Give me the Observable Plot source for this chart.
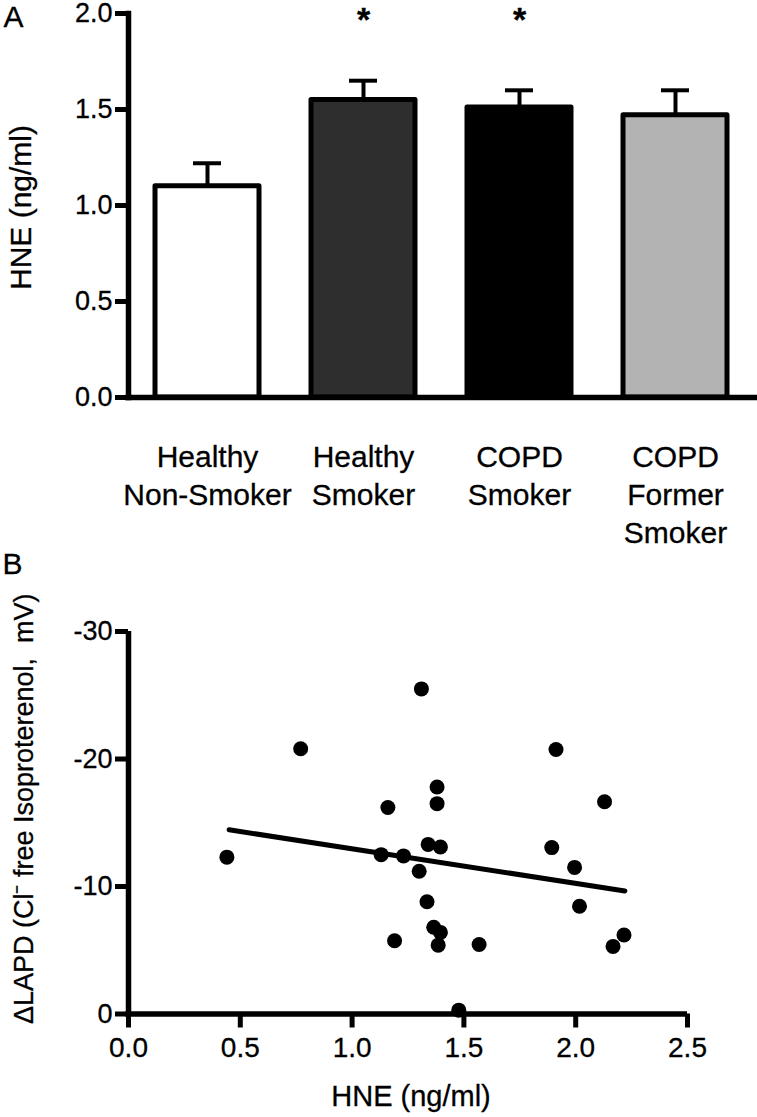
<!DOCTYPE html>
<html>
<head>
<meta charset="utf-8">
<script src="https://cdn.jsdelivr.net/npm/d3@7"></script>
<script src="https://cdn.jsdelivr.net/npm/@observablehq/plot@0.6"></script>
<style>
  html, body { margin: 0; padding: 0; background: white; overflow: hidden; }
  #wrap { position: relative; width: 757px; height: 1117px; }
  #panelA, #panelB { position: absolute; left: 0; }
  #panelA { top: 0; }
  #panelB { top: 540px; }
  svg { overflow: visible; }
  svg text { stroke: #000; stroke-width: 0.3px; paint-order: stroke; }
</style>
</head>
<body>
<div id="wrap"><div id="panelA"></div><div id="panelB"></div></div>
<script>
// ---- Panel A data ----
const groups = ["Healthy\nNon-Smoker", "Healthy\nSmoker", "COPD\nSmoker", "COPD\nFormer\nSmoker"];
const means = [1.10, 1.55, 1.51, 1.47];
const sems = [0.12, 0.10, 0.09, 0.13];
const fills = ["#ffffff", "#2e2e2e", "#000000", "#b3b3b3"];
const sig = ["", "*", "*", ""];
const yTicksA = [0, 0.5, 1.0, 1.5, 2.0];

// ---- Panel B data ----
const hne  = [0.44, 0.77, 1.31, 1.16, 1.19, 1.13, 1.23, 1.30, 1.34, 1.395, 1.38, 1.38, 1.335, 1.365, 1.395, 1.385, 1.477, 1.568, 1.912, 1.893, 1.995, 2.017, 2.129, 2.216, 2.167];
const lapd = [-12.3, -20.8, -25.5, -16.2, -5.75, -12.5, -12.4, -11.2, -13.3, -13.1, -17.8, -16.5, -8.8, -6.8, -6.4, -5.4, -0.3, -5.45, -20.75, -13.05, -11.5, -8.45, -16.65, -6.2, -5.3];
const fitX = [0.45, 2.22];
const fitY = [-14.45, -9.65];
const xTicksB = [0, 0.5, 1.0, 1.5, 2.0, 2.5];
const yTicksB = [0, -10, -20, -30];

const FONT = "'Liberation Sans', Arial, Helvetica, sans-serif";

const bars = groups.map((g, i) => ({group: g, mean: means[i], upper: means[i] + sems[i], fill: fills[i], sig: sig[i]}));

const A = Plot.plot({
  width: 757, height: 560,
  marginTop: 13, marginBottom: 163, marginLeft: 128, marginRight: 3,
  style: {fontFamily: FONT, color: "#000", background: "transparent", overflow: "visible"},
  x: {domain: groups, paddingInner: 0.335, paddingOuter: 0.166, axis: null},
  y: {domain: [0, 2], axis: null},
  color: {type: "identity"},
  marks: [
    Plot.ruleX(bars, {x: "group", y1: "mean", y2: "upper", stroke: "black", strokeWidth: 4}),
    Plot.tickY(bars, {x: "group", y: "upper", stroke: "black", strokeWidth: 4, insetLeft: 38, insetRight: 38}),
    Plot.barY(bars, {x: "group", y: "mean", fill: "fill", stroke: "black", strokeWidth: 5, strokeLinejoin: "round"}),
    Plot.axisY({ticks: yTicksA, tickFormat: d3.format(".1f"), tickSize: 13, tickPadding: 3, strokeWidth: 5, fontSize: 27, label: null}),
    Plot.frame({anchor: "left", strokeWidth: 5.5}),
    Plot.ruleY([0], {strokeWidth: 5.5, insetRight: -4, insetLeft: -2.75}),
    Plot.text(bars, {x: "group", text: "group", frameAnchor: "bottom", lineAnchor: "top", dy: 42, fontSize: 30, lineHeight: 1.27}),
    Plot.text(bars, {x: "group", text: "sig", frameAnchor: "top", lineAnchor: "top", dy: -7, fontSize: 34, fontWeight: "bold"}),
    Plot.text(["HNE (ng/ml)"], {text: d => d, frameAnchor: "left", textAnchor: "middle", rotate: -90, dx: -107, dy: 2, fontSize: 30}),
    Plot.text(["A"], {text: d => d, frameAnchor: "top-left", textAnchor: "start", lineAnchor: "top", dx: -125, dy: -8, fontSize: 30})
  ]
});
document.getElementById("panelA").appendChild(A);

const pts = hne.map((x, i) => ({x, y: lapd[i]}));
const fit = fitX.map((x, i) => ({x, y: fitY[i]}));

const B = Plot.plot({
  width: 757, height: 577,
  marginTop: 91, marginBottom: 103.5, marginLeft: 128, marginRight: 70,
  style: {fontFamily: FONT, color: "#000", background: "transparent", overflow: "visible"},
  x: {domain: [0, 2.5], axis: null},
  y: {domain: [0, -30], axis: null},
  marks: [
    Plot.axisX({ticks: xTicksB, tickFormat: d3.format(".1f"), tickSize: 14, tickPadding: 9, strokeWidth: 5, fontSize: 28, label: null}),
    Plot.axisY({ticks: yTicksB, tickFormat: d => String(d), tickSize: 13, tickPadding: 3, strokeWidth: 5, fontSize: 27, label: null}),
    Plot.ruleX([0], {strokeWidth: 5.5}),
    Plot.ruleY([0], {strokeWidth: 5.5, insetLeft: -2.75}),
    Plot.line(fit, {x: "x", y: "y", stroke: "black", strokeWidth: 5, strokeLinecap: "round"}),
    Plot.dot(pts, {x: "x", y: "y", r: 7.5, fill: "black"}),
    Plot.text(["HNE (ng/ml)"], {text: d => d, frameAnchor: "bottom", lineAnchor: "top", dy: 71.5, dx: 3, fontSize: 29}),
    Plot.text(["\u0394LAPD (Cl\u207B free Isoproterenol,\u00A0 mV)"], {text: d => d, frameAnchor: "left", textAnchor: "middle", rotate: -90, dx: -104, dy: -14, fontSize: 27}),
    Plot.text(["B"], {text: d => d, frameAnchor: "top-left", textAnchor: "start", lineAnchor: "top", dx: -126, dy: -79, fontSize: 30})
  ]
});
document.getElementById("panelB").appendChild(B);
</script>
</body>
</html>
